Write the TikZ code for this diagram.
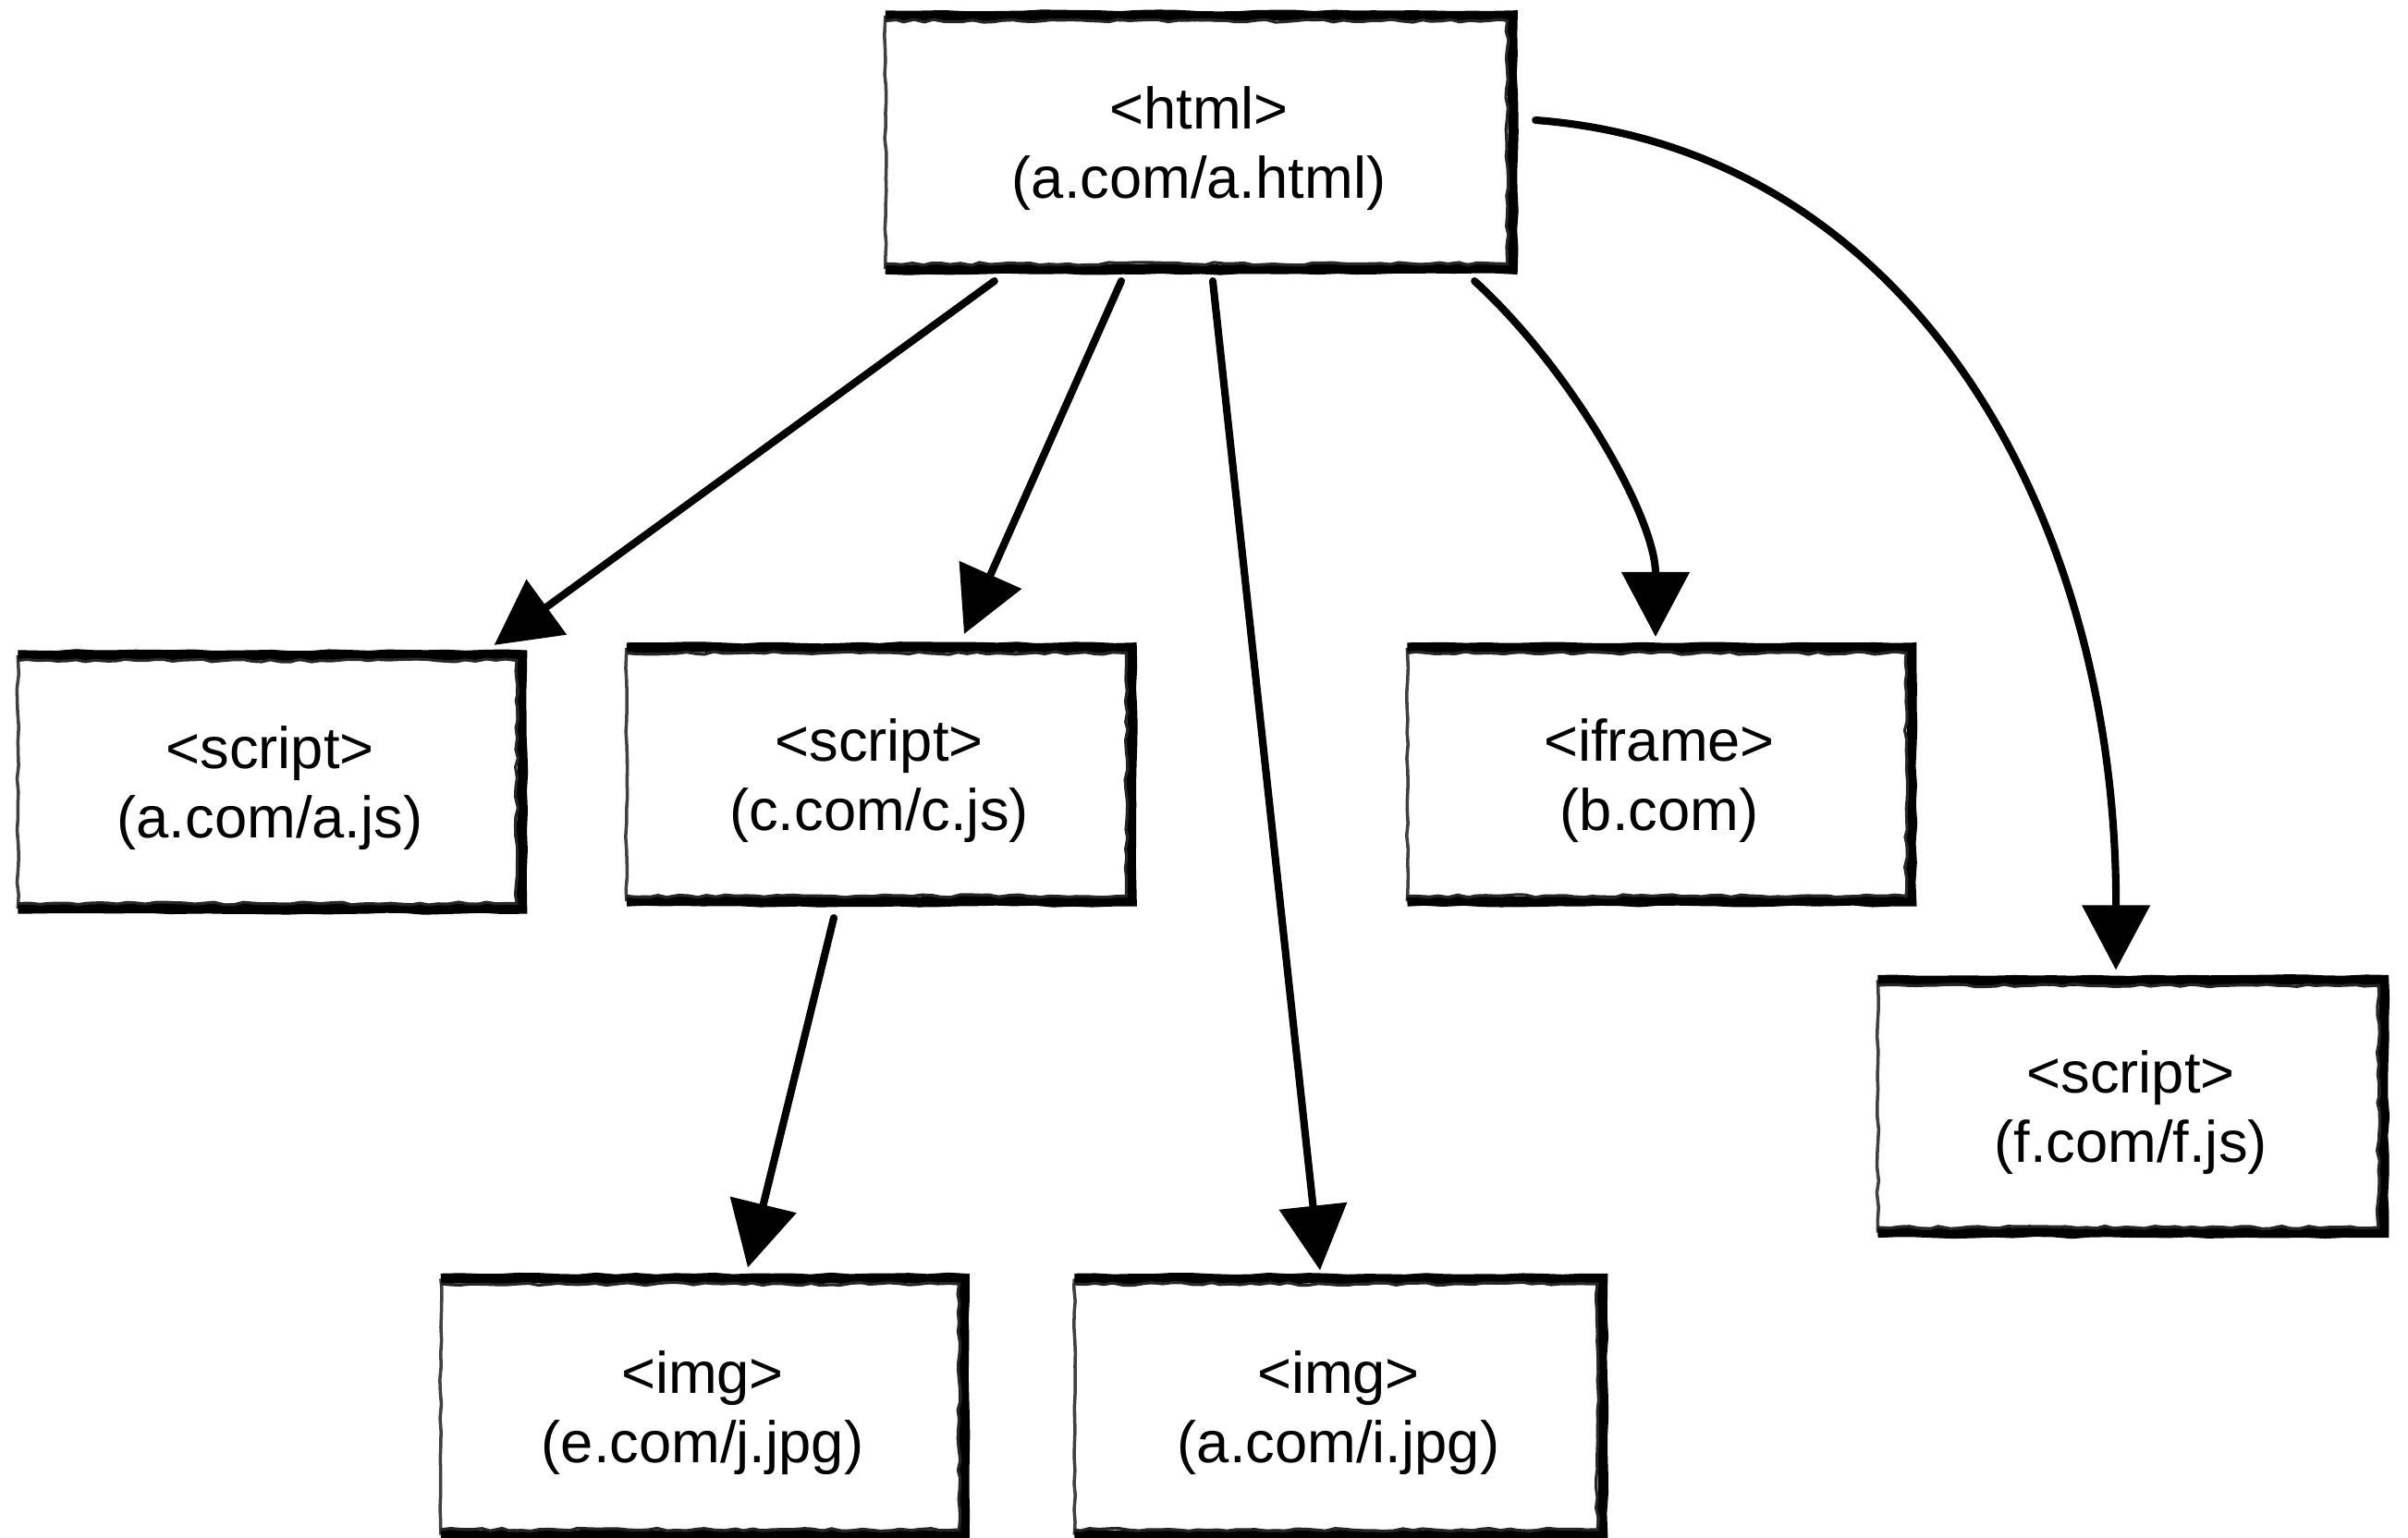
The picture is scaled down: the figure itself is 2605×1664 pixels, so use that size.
\documentclass[tikz,border=0pt]{standalone}
\usepackage{fontspec}
\setmainfont{Liberation Sans}
\usetikzlibrary{arrows.meta,calc,decorations.pathmorphing}

% Hand-drawn frame: thin left side, heavy top, right and bottom sides
\newcommand{\sketchframe}[1]{%
  \draw[thinedge] (#1.south west) -- (#1.north west);
  \draw[heavyedge] (#1.north west) -- (#1.north east) -- (#1.south east) -- (#1.south west);
  \draw[roughedge] ([yshift=-1.6pt]#1.north west) -- ([yshift=-1.6pt,xshift=-1.6pt]#1.north east)
        -- ([xshift=-1.6pt,yshift=1.6pt]#1.south east) -- ([yshift=1.6pt]#1.south west);
}

\begin{document}
\begin{tikzpicture}[x=0.01cm,y=-0.01cm,
  tagbox/.style={inner sep=0pt,outer sep=0pt,minimum width=5.46cm,minimum height=2.74cm,
                 text depth=0pt,align=center,font=\fontsize{18}{21.2}\selectfont},
  thinedge/.style={line width=1pt,black!75,decorate,
                   decoration={random steps,segment length=4pt,amplitude=0.3pt}},
  heavyedge/.style={line width=3.2pt,black,line join=miter,
                    decorate,decoration={random steps,segment length=6pt,amplitude=0.3pt}},
  roughedge/.style={line width=0.9pt,black!85,decorate,
                    decoration={random steps,segment length=3pt,amplitude=0.45pt}},
  link/.style={line width=2.3pt,black,line cap=round,
               -{Triangle[length=0.7cm,width=0.72cm]}}]

\useasboundingbox (0,0) rectangle (2605,1664);

% boxes
\node[tagbox,minimum width=6.78cm] (html) at (1297,154) {<html>\\(a.com/a.html)};
\node[tagbox,minimum width=5.45cm] (ajs) at (292,846) {<script>\\(a.com/a.js)};
\node[tagbox] (cjs) at (951,838) {<script>\\(c.com/c.js)};
\node[tagbox,minimum width=5.45cm] (ifr) at (1795,838) {<iframe>\\(b.com)};
\node[tagbox,minimum width=5.47cm,minimum height=2.73cm] (fjs) at (2305,1197) {<script>\\(f.com/f.js)};
\node[tagbox,minimum width=5.66cm,minimum height=2.77cm] (ejpg) at (760,1522) {<img>\\(e.com/j.jpg)};
\node[tagbox,minimum width=5.71cm,minimum height=2.77cm] (ijpg) at (1448,1522) {<img>\\(a.com/i.jpg)};

\sketchframe{html}
\sketchframe{ajs}
\sketchframe{cjs}
\sketchframe{ifr}
\sketchframe{fjs}
\sketchframe{ejpg}
\sketchframe{ijpg}

% connectors
\draw[link] ($(html.south west)+(118,13)$) -- ($(ajs.north east)+(-30,-11)$);
\draw[link] ($(html.south)+(-84,13)$) -- ($(cjs.north)+(92,-15)$);
\draw[link] ($(html.south)+(15,13)$) -- ($(ijpg.north)+(-20,-9)$);
\draw[link] ($(html.south east)+(-41,13)$) .. controls +(105,96) and +(0,-129) .. ($(ifr.north)+(-4,-12)$);
\draw[link] ($(html.east)+(25,-24)$) .. controls +(400,30) and +(1,-500) .. ($(fjs.north)+(-16,-11)$);
\draw[link] ($(cjs.south)+(-49,18)$) -- ($(ejpg.north)+(49,-12)$);

\end{tikzpicture}
\end{document}
